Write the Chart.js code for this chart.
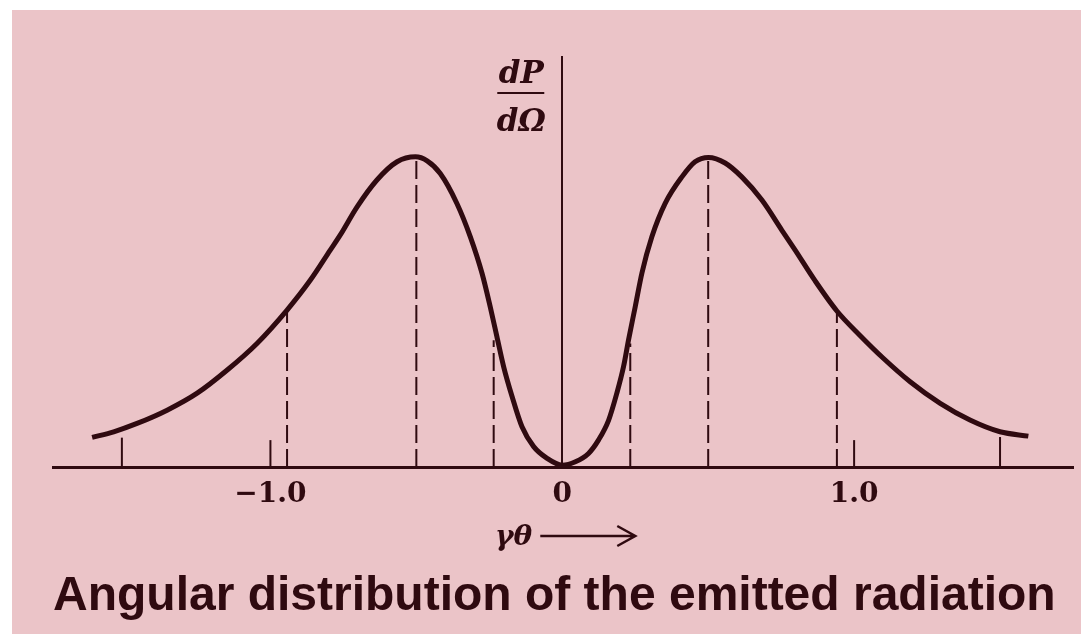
<!DOCTYPE html>
<html>
<head>
<meta charset="utf-8">
<script src="https://cdn.jsdelivr.net/npm/chart.js@4.4.1/dist/chart.umd.min.js"></script>
<style>
  body { margin: 0; background: #fff; }
  #wrap { position: absolute; left: 12px; top: 10px; width: 1069px; height: 624px; background: #ebc4c8; }
</style>
</head>
<body>
<div id="wrap"><canvas id="myChart" width="1069" height="624"></canvas></div>
<script>
// dP/dOmega against gamma*theta, peak value scaled to 1
let gammaTheta = [
  -1.611, -1.537, -1.457, -1.354, -1.251, -1.148, -1.046, -0.943, -0.863, -0.795,
  -0.760, -0.703, -0.635, -0.566, -0.503, -0.463, -0.418, -0.361, -0.315, -0.275,
  -0.247, -0.224, -0.201, -0.172, -0.138, -0.098, -0.052, 0.0, 0.045, 0.090,
  0.124, 0.159, 0.187, 0.210, 0.227, 0.250, 0.273, 0.307, 0.353, 0.410,
  0.455, 0.501, 0.558, 0.615, 0.684, 0.752, 0.798, 0.866, 0.941, 1.021,
  1.100, 1.192, 1.295, 1.397, 1.500, 1.597,
];
let dPdOmega = [
  0.096, 0.114, 0.141, 0.184, 0.239, 0.314, 0.400, 0.508, 0.605, 0.702,
  0.752, 0.842, 0.929, 0.988, 1.004, 0.991, 0.950, 0.853, 0.745, 0.627,
  0.519, 0.422, 0.325, 0.228, 0.130, 0.066, 0.028, 0.006, 0.017, 0.044,
  0.087, 0.152, 0.239, 0.325, 0.411, 0.519, 0.628, 0.745, 0.854, 0.939,
  0.988, 1.002, 0.984, 0.939, 0.864, 0.767, 0.702, 0.603, 0.505, 0.425,
  0.352, 0.276, 0.206, 0.152, 0.114, 0.100,
];

// dashed drop lines: position and height where they meet the curve
let dashX = [-0.943, -0.5, -0.235, 0.233, 0.5, 0.941];
let dashTop = [0.508, 0.99, 0.41, 0.40, 0.99, 0.505];

// short marks standing on the axis
let markX = [-1.509, -1.0, 1.0, 1.5];
let markTop = [0.095, 0.087, 0.087, 0.097];

let axisTicks = [-1, 0, 1];
let axisLabels = ["−1.0", "0", "1.0"];

let ink = "#2f0a10";

let datasets = [
  {
    data: gammaTheta.map((x, i) => ({ x: x, y: dPdOmega[i] })),
    showLine: true,
    borderColor: ink,
    borderWidth: 5,
    pointRadius: 0,
    cubicInterpolationMode: "monotone",
    clip: false,
  },
];
dashX.forEach((x, i) => {
  datasets.push({
    data: [{ x: x, y: 0 }, { x: x, y: dashTop[i] }],
    showLine: true,
    borderColor: ink,
    borderWidth: 2,
    borderDash: [18, 6],
    pointRadius: 0,
  });
});
markX.forEach((x, i) => {
  datasets.push({
    data: [{ x: x, y: 0 }, { x: x, y: markTop[i] }],
    showLine: true,
    borderColor: ink,
    borderWidth: 2,
    pointRadius: 0,
  });
});

// fraction on the vertical axis and the gamma-theta arrow under the axis
let axisText = {
  id: "axisText",
  afterDraw(chart) {
    let ctx = chart.ctx;
    let x0 = chart.scales.x.getPixelForValue(0);
    let top = chart.chartArea.top;
    let bottom = chart.chartArea.bottom;
    ctx.save();
    ctx.fillStyle = ink;
    ctx.strokeStyle = ink;
    ctx.textAlign = "center";
    ctx.textBaseline = "alphabetic";
    ctx.font = "italic bold 31px 'DejaVu Serif'";
    ctx.fillText("dP", x0 - 41, top + 26);
    ctx.fillText("dΩ", x0 - 41, top + 74);
    ctx.lineWidth = 2;
    ctx.beginPath();
    ctx.moveTo(x0 - 65, top + 36);
    ctx.lineTo(x0 - 18, top + 36);
    ctx.stroke();

    ctx.font = "italic bold 28px 'DejaVu Serif'";
    ctx.textAlign = "right";
    ctx.fillText("γθ", x0 - 30, bottom + 78);
    ctx.lineWidth = 2.5;
    ctx.beginPath();
    ctx.moveTo(x0 - 22, bottom + 69);
    ctx.lineTo(x0 + 73, bottom + 69);
    ctx.moveTo(x0 + 55, bottom + 59);
    ctx.lineTo(x0 + 73, bottom + 69);
    ctx.lineTo(x0 + 55, bottom + 79);
    ctx.stroke();
    ctx.restore();
  },
};

let myChart = document.getElementById("myChart").getContext("2d");
let radiationChart = new Chart(myChart, {
  type: "scatter",
  data: { datasets: datasets },
  options: {
    responsive: false,
    animation: false,
    layout: { padding: { left: 41, right: 8, top: 47, bottom: 8.8 } },
    plugins: {
      legend: { display: false },
      tooltip: { enabled: false },
      title: {
        display: true,
        position: "bottom",
        align: "start",
        text: "Angular distribution of the emitted radiation",
        color: ink,
        font: { family: "'Liberation Sans', Arial", size: 48, weight: "bold" },
        padding: { top: 22.6, bottom: 0 },
      },
    },
    scales: {
      x: {
        type: "linear",
        min: -1.745,
        max: 1.75,
        grid: { display: false, drawTicks: false },
        border: { color: ink, width: 3 },
        afterBuildTicks: (scale) => {
          scale.ticks = axisTicks.map((v) => ({ value: v }));
        },
        afterFit: (scale) => {
          scale.height = 78;
        },
        ticks: {
          padding: 11,
          color: ink,
          autoSkip: false,
          maxRotation: 0,
          font: { family: "'DejaVu Serif'", size: 28, weight: "bold" },
          callback: (value, index) => axisLabels[index],
        },
      },
      y: {
        type: "linear",
        min: 0,
        max: 1.327,
        position: { x: 0 },
        grid: { display: false, drawTicks: false },
        border: { color: ink, width: 2 },
        ticks: { display: false },
      },
    },
  },
  plugins: [axisText],
});
</script>
</body>
</html>
